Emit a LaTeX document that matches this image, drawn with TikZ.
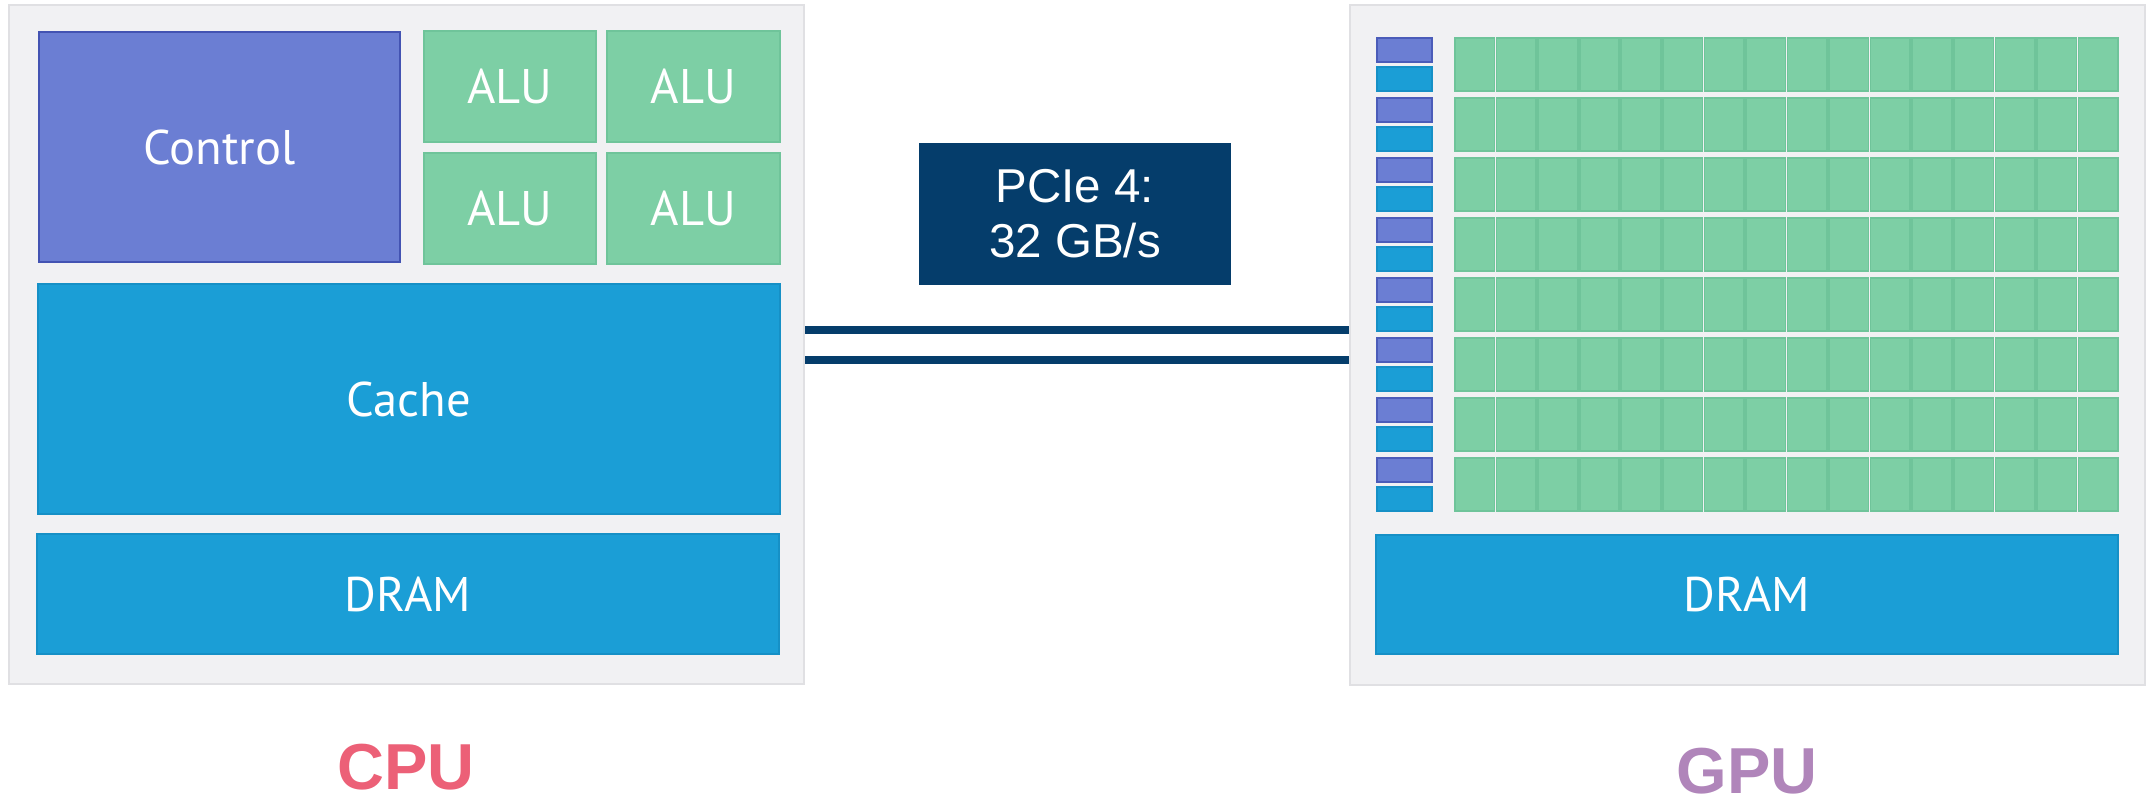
\documentclass[tikz,border=0pt]{standalone}
\usepackage{fontspec}
\setmainfont{Liberation Sans}
\newfontfamily\boxfont{PT Sans}
\usetikzlibrary{fit}
\definecolor{panelbg}{HTML}{F1F1F3}
\definecolor{panelborder}{HTML}{E0E0E3}
\definecolor{ctrl}{HTML}{6B7ED3}
\definecolor{ctrlborder}{HTML}{4353B2}
\definecolor{alu}{HTML}{7DCFA5}
\definecolor{aluborder}{HTML}{6FC49A}
\definecolor{cache}{HTML}{1B9ED6}
\definecolor{cacheborder}{HTML}{1690C6}
\definecolor{pcie}{HTML}{053D6B}
\definecolor{cpulabel}{HTML}{EC6077}
\definecolor{gpulabel}{HTML}{B085BA}
\begin{document}
\begin{tikzpicture}[x=0.5pt,y=-0.5pt,
  panel/.style={fill=panelbg,draw=panelborder,line width=1pt,inner sep=0pt},
  ctrlbox/.style={fill=ctrl,draw=ctrlborder,line width=1pt,inner sep=0pt},
  alubox/.style={fill=alu,draw=aluborder,line width=0.8pt,inner sep=0pt},
  cachebox/.style={fill=cache,draw=cacheborder,line width=0.8pt,inner sep=0pt},
  boxtext/.style={anchor=center,inner sep=0pt,text=white,font=\boxfont\fontsize{24.3}{28}\selectfont},
  ctrlsmall/.style={fill=ctrl,draw=ctrlborder!80!ctrl,line width=0.8pt,inner sep=0pt},
  cachesmall/.style={fill=cache,draw=cacheborder,line width=0.8pt,inner sep=0pt},
  cell/.style={fill=alu,draw=aluborder,line width=0.8pt,inner sep=0pt},
  pciebox/.style={fill=pcie,inner sep=0pt},
  pcietext/.style={anchor=center,inner sep=0pt,text=white,align=center,font=\fontsize{23.75}{27.5}\selectfont},
  bus/.style={draw=pcie,line width=4pt},
  chiplabel/.style={anchor=base,inner sep=0pt,font=\bfseries\fontsize{32.5}{36}\selectfont}]
\path[use as bounding box] (0,0) rectangle (2146,798);
% CPU
\node[panel, fit={(9,5)(804,684)}] (cpu) {};
\node[ctrlbox, fit={(39,32)(400,262)}] (ctrl) {};
\node[boxtext] (ctrlt) at (ctrl.center) {Control};
\node[alubox, fit={(424,31)(596,142)}] (alu1) {};
\node[alubox, fit={(607,31)(780,142)}] (alu2) {};
\node[alubox, fit={(424,153)(596,264)}] (alu3) {};
\node[alubox, fit={(607,153)(780,264)}] (alu4) {};
\foreach \a in {1,...,4}{\node[boxtext] (alut\a) at (alu\a.center) {ALU};}
\node[cachebox, fit={(38,284)(780,514)}] (cache) {};
\node[boxtext] (cachet) at (cache.center) {Cache};
\node[cachebox, fit={(37,534)(779,654)}] (cdram) {};
\node[boxtext] (cdramt) at (cdram.center) {DRAM};
\node[chiplabel, text=cpulabel] (cpulbl) at (406,789) {CPU};
% GPU
\node[panel, fit={(1350,5)(2145,685)}] (gpu) {};
\foreach \r in {0,...,7}{
  \pgfmathsetmacro\yt{38+60*\r}
  \pgfmathsetmacro\yb{91+60*\r}
  \node[ctrlsmall, fit={(1377,\yt)(1432,\yt+24)}] (gc-\r) {};
  \node[cachesmall, fit={(1377,\yt+29)(1432,\yb)}] (gk-\r) {};
  \foreach \c in {0,...,15}{
    \pgfmathsetmacro\xl{1454+41.5625*\c}
    \pgfmathsetmacro\xr{\xl+41.5625}
    \node[cell, fit={(\xl+1,\yt)(\xr-1,\yb)}] (g-\r-\c) {};
  }
}
\node[cachebox, fit={(1376,535)(2118,654)}] (gdram) {};
\node[boxtext] (gdramt) at (gdram.center) {DRAM};
\node[chiplabel, text=gpulabel] (gpulbl) at (1747,793) {GPU};
% PCIe
\node[pciebox, fit={(919,143)(1231,285)}] (pcie) {};
\node[pcietext] (pciet) at (pcie.center) {PCIe 4:\\32 GB/s};
\coordinate (l1) at (0,330);
\coordinate (l2) at (0,360);
\draw[bus] (cpu.east |- l1) -- (gpu.west |- l1);
\draw[bus] (cpu.east |- l2) -- (gpu.west |- l2);
\end{tikzpicture}
\end{document}
